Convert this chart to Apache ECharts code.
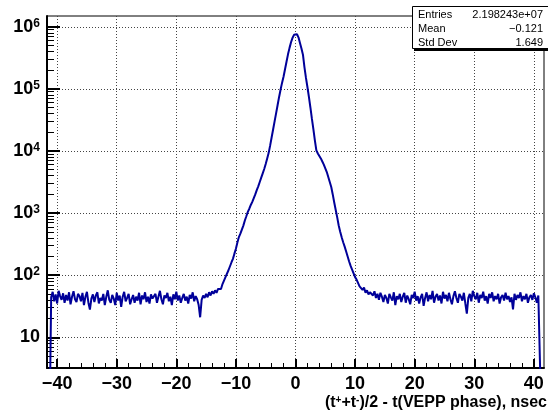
<!DOCTYPE html>
<html>
<head>
<meta charset="utf-8">
<script src="https://cdn.jsdelivr.net/npm/echarts@6/dist/echarts.min.js"></script>
<style>
html,body{margin:0;padding:0;background:#fff;}
#chart{width:548px;height:412px;}
</style>
</head>
<body>
<div id="chart"></div>
<script>
// ---- Histogram data (bin centres: firstBin + i*binWidth) ----
const binWidth = 0.25;
const firstBin = -41.25;
// -41.25 .. -12.75
const leftTail = [0.5,
44, 54, 38, 49, 35, 56, 46, 40, 51, 36,
48, 39, 53, 34, 45, 55, 41, 37, 50, 46,
38, 52, 33, 45, 54, 36, 28, 42, 49, 37,
47, 53, 35, 43, 39, 50, 33, 45, 57, 40,
36, 48, 42, 33, 52, 39, 47, 31, 45, 54,
38, 43, 50, 34, 41, 48, 36, 45, 39, 52,
34, 47, 41, 53, 37, 45, 35, 49, 42, 39,
50, 36, 45, 56, 41, 34, 47, 43, 52, 38,
45, 33, 49, 41, 54, 39, 47, 36, 43, 50,
39, 45, 35, 48, 42, 53, 38, 46, 41, 33,
21, 40, 47, 43, 50, 44, 53, 47, 55, 50,
57, 52, 60, 57];
// -12.5 .. 12.5
const core = [
60, 72, 71, 93, 95, 120, 128, 160, 183, 222,
266, 335, 410, 465, 540, 628, 760, 890, 1047, 1175,
1349, 1514, 1738, 1995, 2344, 2692, 3162, 3715, 4365, 5129,
6166, 7586, 9333, 12300, 16600, 22390, 30200, 40740, 54950, 74130,
97720, 125900, 158500, 208900, 275400, 363100, 457100, 562300, 660700, 741300,
776200,
758600, 676100, 549500, 446700, 354800, 223900, 151400, 107200, 74130, 50120,
33110, 22390, 14790, 10230, 9120, 8318, 7586, 6761, 6026, 5248,
4571, 3802, 3162, 2630, 1995, 1479, 1122, 851, 631, 501,
407, 339, 288, 240, 200, 166, 141, 123, 107, 93,
85, 79, 66, 70, 58, 63, 52, 57, 49, 53];
// 12.75 .. 41.25
const rightTail = [
52, 47, 55, 43, 50, 40, 52, 45, 37, 48,
43, 35, 50, 44, 39, 53, 33, 46, 41, 50,
37, 45, 52, 36, 47, 41, 34, 48, 43, 54,
39, 46, 35, 44, 50, 32, 43, 53, 38, 48,
41, 56, 36, 45, 50, 39, 47, 35, 54, 42,
48, 38, 52, 41, 34, 46, 55, 43, 36, 50,
45, 39, 52, 35, 24, 43, 50, 38, 56, 46,
41, 52, 36, 48, 43, 54, 39, 46, 35, 50,
43, 53, 38, 46, 41, 50, 35, 44, 48, 39,
52, 41, 46, 37, 44, 28, 50, 40, 48, 43,
53, 38, 46, 41, 50, 36, 44, 48, 40, 51,
44, 36, 47, 45, 0.5];

// ---- Axes ----
const xMin = -41.7, xMax = 41.7;
const yMin = 3.2, yMax = 1.49e6;
const xMajor = [-40, -30, -20, -10, 0, 10, 20, 30, 40];
const xMinor = [-38,-36,-34,-32,-28,-26,-24,-22,-18,-16,-14,-12,-8,-6,-4,-2,2,4,6,8,12,14,16,18,22,24,26,28,32,34,36,38];
const yMajor = [10, 100, 1000, 10000, 100000, 1000000];
const yMinor = [4,5,6,7,8,9,20,30,40,50,60,70,80,90,200,300,400,500,600,700,800,900,
  2000,3000,4000,5000,6000,7000,8000,9000,20000,30000,40000,50000,60000,70000,80000,90000,
  200000,300000,400000,500000,600000,700000,800000,900000];

// ---- Stats box ----
const statNames = ['Entries', 'Mean', 'Std Dev'];
const statValues = ['2.198243e+07', '\u22120.121', '1.649'];
const xTitle = '(t{s|+}+t{s|-})/2 - t(VEPP phase), nsec';

const counts = leftTail.concat(core, rightTail);
const histData = counts.map((c, i) => [firstBin + i * binWidth, c]);

const FONT = '"Liberation Sans", Arial, Helvetica, sans-serif';
const chart = echarts.init(document.getElementById('chart'), null, {renderer: 'canvas'});

const statGraphics = [];
statGraphics.push({type: 'rect', z: 100, shape: {x: 414, y: 9, width: 140, height: 42}, style: {fill: '#000'}});
statGraphics.push({type: 'rect', z: 101, shape: {x: 412.5, y: 6.5, width: 140, height: 42}, style: {fill: '#fff', stroke: '#000', lineWidth: 1}});
statNames.forEach((n, i) => {
  statGraphics.push({type: 'text', z: 102, x: 418, y: 15 + i * 14,
    style: {text: n, fontFamily: FONT, fontSize: 11, fill: '#000', align: 'left', verticalAlign: 'middle'}});
  statGraphics.push({type: 'text', z: 102, x: 543, y: 15 + i * 14,
    style: {text: statValues[i], fontFamily: FONT, fontSize: 11, fill: '#000', align: 'right', verticalAlign: 'middle'}});
});
statGraphics.push({type: 'text', z: 102, x: 547, y: 403,
  style: {text: xTitle, fontFamily: FONT, fontSize: 16, fontWeight: 'bold', fill: '#000', align: 'right', verticalAlign: 'middle',
    rich: {s: {fontFamily: FONT, fontSize: 10, fontWeight: 'bold', verticalAlign: 'top', fill: '#000'}}}});

const option = {
  animation: false,
  backgroundColor: '#fff',
  grid: {left: 47, right: 4, top: 16, bottom: 44, show: true, borderColor: '#000', borderWidth: 1, backgroundColor: 'transparent', containLabel: false},
  xAxis: [{
    type: 'value', min: xMin, max: xMax, splitNumber: 8,
    axisLine: {show: true, onZero: false, lineStyle: {color: '#000', width: 2}},
    axisTick: {show: true, inside: true, length: 9, customValues: xMajor, lineStyle: {color: '#000', width: 2}},
    axisLabel: {show: true, customValues: xMajor, margin: 7, fontFamily: FONT, fontSize: 18, fontWeight: 'bold', color: '#000',
      formatter: v => (v < 0 ? '\u2212' + (-v) : String(v))},
    splitLine: {show: true, lineStyle: {color: '#444', type: [1, 2], width: 1}}
  }, {
    type: 'value', min: xMin, max: xMax, position: 'bottom', splitNumber: 8,
    axisLine: {show: false, onZero: false},
    axisTick: {show: true, inside: true, length: 5, customValues: xMinor, lineStyle: {color: '#000', width: 1}},
    axisLabel: {show: false}, splitLine: {show: false}
  }],
  yAxis: [{
    type: 'log', min: yMin, max: yMax, logBase: 10,
    axisLine: {show: true, onZero: false, lineStyle: {color: '#000', width: 2}},
    axisTick: {show: true, inside: true, length: 13, customValues: yMajor, lineStyle: {color: '#000', width: 2}},
    axisLabel: {show: true, customValues: yMajor, margin: 7, color: '#000',
      formatter: v => { const e = Math.round(Math.log10(v)); return e === 1 ? '{b|10}' : '{b|10}{s|' + e + '}'; },
      rich: {b: {fontFamily: FONT, fontSize: 18, fontWeight: 'bold', color: '#000'},
             s: {fontFamily: FONT, fontSize: 12, fontWeight: 'bold', color: '#000', verticalAlign: 'top'}}},
    splitLine: {show: true, lineStyle: {color: '#444', type: [1, 2], width: 1}}
  }, {
    type: 'log', min: yMin, max: yMax, logBase: 10, position: 'left',
    axisLine: {show: false, onZero: false},
    axisTick: {show: true, inside: true, length: 7, customValues: yMinor, lineStyle: {color: '#000', width: 1}},
    axisLabel: {show: false}, splitLine: {show: false}
  }],
  series: [{
    type: 'line', xAxisIndex: 0, yAxisIndex: 0, data: histData,
    showSymbol: false, symbol: 'none', clip: true, sampling: null,
    lineStyle: {color: '#000099', width: 2}, z: 5
  }],
  graphic: statGraphics
};
chart.setOption(option);
</script>
</body>
</html>
